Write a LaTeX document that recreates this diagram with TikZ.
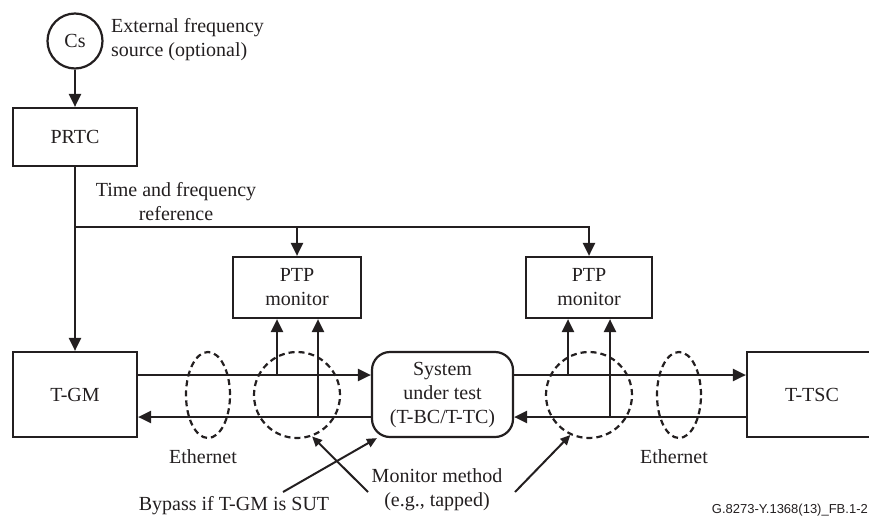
\documentclass[tikz,border=0pt]{standalone}
\usepackage{fontspec}
\setmainfont{Liberation Serif}
\newfontfamily\labelsans{Liberation Sans}
\usetikzlibrary{arrows.meta,shapes.geometric,calc}
\definecolor{ink}{RGB}{35,31,32}
\begin{document}
\begin{tikzpicture}[x=1pt,y=-1pt,
  every node/.style={font=\fontsize{20}{24}\selectfont, inner sep=0pt, text=ink},
  boxnode/.style={draw=ink, line width=2.2pt, align=center},
  arr/.style={draw=ink, line width=2.2pt, -{Triangle[length=13pt,width=12pt]}},
  ptr/.style={draw=ink, line width=2pt, -{Triangle[length=10pt,width=9pt]}},
  dashring/.style={draw=ink, line width=2.2pt, dash pattern=on 6pt off 4pt}
]
\clip (0,0) rectangle (869,517);

% nodes
\node[circle, draw=ink, line width=2.2pt, minimum size=55pt] (cs) at (75,41) {Cs};
\node[anchor=west, align=left] (ext) at (111,39.5) {External frequency\\source (optional)};
\node[boxnode, minimum width=124pt, minimum height=58pt] (prtc) at (75,137) {PRTC};
\node[align=center] (tfr) at (176,202) {Time and frequency\\reference};
\node[boxnode, minimum width=124pt, minimum height=85pt] (tgm) at (75,394.5) {T-GM};
\node[boxnode, rounded corners=18pt, minimum width=141pt, minimum height=85pt] (sut) at (442.5,394.5) {System\\under test\\(T-BC/T-TC)};
\node[boxnode, minimum width=130pt, minimum height=85pt] (ttsc) at (812,394.5) {T-TSC};
\node[boxnode, minimum width=128pt, minimum height=61pt] (mon1) at (297,287.5) {PTP\\monitor};
\node[boxnode, minimum width=126pt, minimum height=61pt] (mon2) at (589,287.5) {PTP\\monitor};

% dashed groupings
\node[dashring, ellipse, minimum width=44pt, minimum height=86pt] (eth1) at (208,395) {};
\node[dashring, circle, minimum size=86pt] (ring1) at (297,395) {};
\node[dashring, circle, minimum size=86pt] (ring2) at (589,395) {};
\node[dashring, ellipse, minimum width=44pt, minimum height=86pt] (eth2) at (679,395) {};

% labels
\node (ethl1) at (203,457) {Ethernet};
\node (ethl2) at (674,457) {Ethernet};
\node (byp) at (234,506) {Bypass if T-GM is SUT};
\node[align=center] (mm) at (437,490) {Monitor method\\(e.g., tapped)};
\node[anchor=east, font=\labelsans\fontsize{13}{15}\selectfont] (code) at (868,510) {G.8273-Y.1368(13)\_FB.1-2};

% reference distribution
\coordinate (j) at (75,227);
\draw[arr] (cs) -- (prtc);
\draw[arr] (prtc.south) -- (tgm.north);
\draw[arr] (j) -| (mon1.north);
\draw[arr] (j) -| (mon2.north);

% traffic lines
\coordinate (uy) at (0,375);
\coordinate (ly) at (0,417);
\draw[arr] (tgm.east |- uy) -- (sut.west |- uy);
\draw[arr] (sut.west |- ly) -- (tgm.east |- ly);
\draw[arr] (sut.east |- uy) -- (ttsc.west |- uy);
\draw[arr] (ttsc.west |- ly) -- (sut.east |- ly);

% taps
\coordinate (t1) at (277,375);
\coordinate (t2) at (318,417);
\coordinate (t3) at (568,375);
\coordinate (t4) at (610,417);
\draw[arr] (t1) -- (t1 |- mon1.south);
\draw[arr] (t2) -- (t2 |- mon1.south);
\draw[arr] (t3) -- (t3 |- mon2.south);
\draw[arr] (t4) -- (t4 |- mon2.south);

% pointers
\coordinate (bp) at (283,492);
\coordinate (mp1) at (368,492);
\coordinate (mp2) at (515,492);
\draw[ptr] (bp) -- ([xshift=6pt]sut.south west);
\draw[ptr] (mp1) -- (ring1.290);
\draw[ptr] (mp2) -- (ring2.245);
\end{tikzpicture}
\end{document}
